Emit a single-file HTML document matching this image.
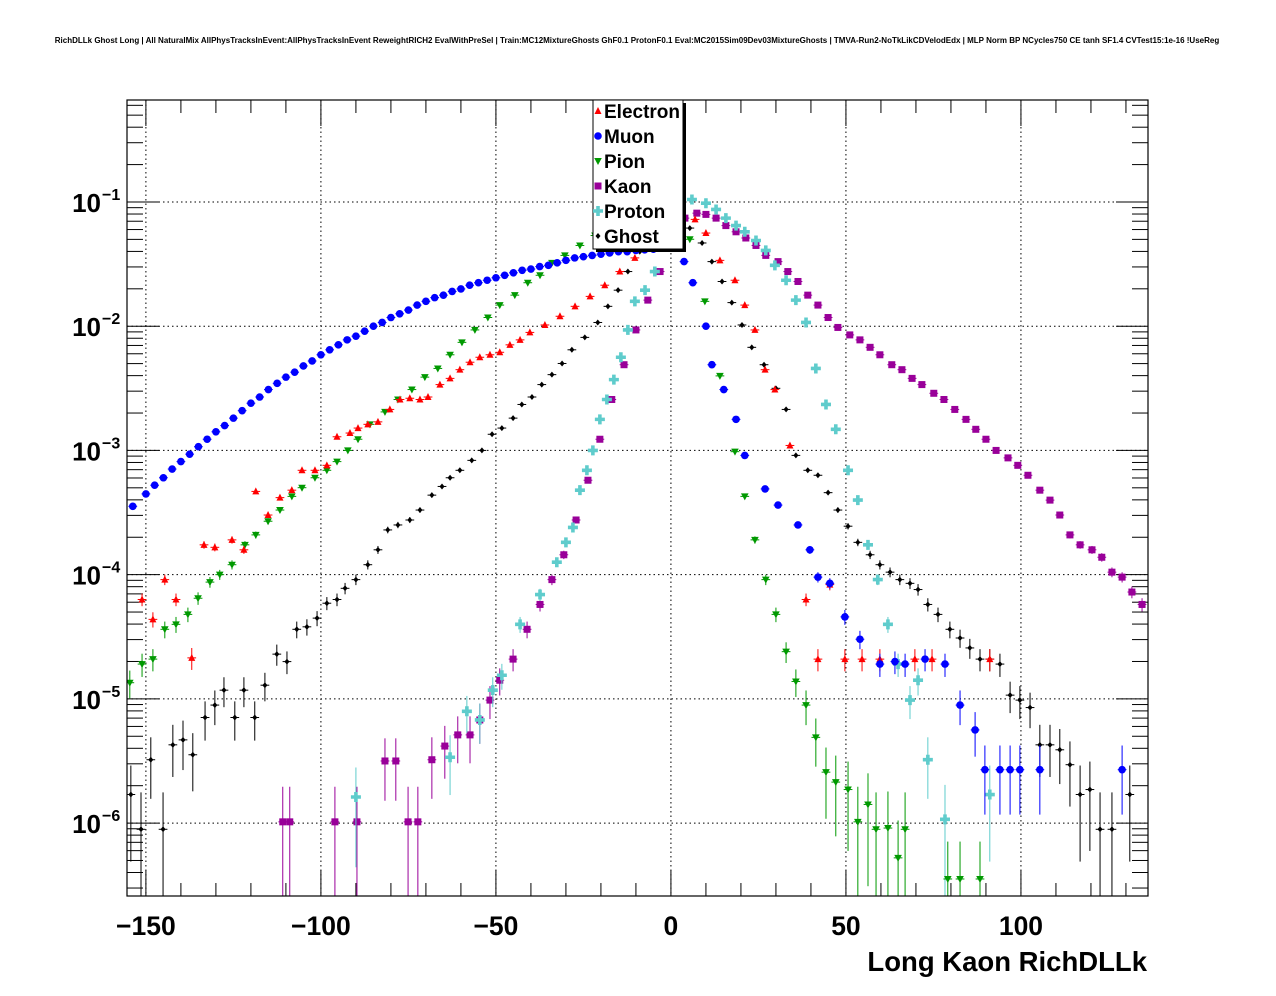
<!DOCTYPE html>
<html><head><meta charset="utf-8"><style>
html,body{margin:0;padding:0;background:#fff;}
svg{display:block;font-family:"Liberation Sans",sans-serif;}
</style></head><body>
<svg id="chart" width="1276" height="996" viewBox="0 0 1276 996" xmlns="http://www.w3.org/2000/svg">
<rect x="0" y="0" width="1276" height="996" fill="#fff"/>
<text x="637" y="43" text-anchor="middle" font-size="8" font-weight="bold">RichDLLk Ghost Long | All NaturalMix AllPhysTracksInEvent:AllPhysTracksInEvent ReweightRICH2 EvalWithPreSel | Train:MC12MixtureGhosts GhF0.1 ProtonF0.1 Eval:MC2015Sim09Dev03MixtureGhosts | TMVA-Run2-NoTkLikCDVelodEdx | MLP Norm BP NCycles750 CE tanh SF1.4 CVTest15:1e-16 !UseReg</text>
<defs><clipPath id="frameclip"><rect x="127" y="100" width="1021" height="796"/></clipPath></defs>
<g id="grid"></g>
<g id="axes"></g>
<g id="series" clip-path="url(#frameclip)"></g>
<rect x="127" y="100" width="1021" height="796" fill="none" stroke="#000" stroke-width="1.2"/>
<g id="legend">
<rect x="596" y="103" width="90" height="149" fill="#000"/>
<rect x="593" y="100" width="90" height="149" fill="#fff" stroke="#000" stroke-width="1"/>
</g>
<text x="1147" y="971" text-anchor="end" font-size="27.5" font-weight="bold">Long Kaon RichDLLk</text>
</svg>
<script>
// ---- data (x in DLLk units, y as log10 of normalised entries) ----
const muonX=[-153.75,-150,-145,-140,-135,-130,-125,-120,-115,-110,-105,-100,-95,-90,-85,-80,-75,-70,-65,-60,-55,-50,-45,-40,-35,-30,-25,-20,-15,-10,-5,3.75,6.25,10,11.7,15.1,18.6,21.1,26.9,30.6,36.3,39.7,42,45.4,49.7,54,59.7,64,66.9,72.6,78.3,82.6,86.9,89.7,94,96.9,99.7,105.4,128.9,-147.5,-142.5,-137.5,-132.5,-127.5,-122.5,-117.5,-112.5,-107.5,-102.5,-97.5,-92.5,-87.5,-82.5,-77.5,-72.5,-67.5,-62.5,-57.5,-52.5,-47.5,-42.5,-37.5,-32.5,-27.5,-22.5,-17.5,-12.5,-7.5];
const muonLogY=[-3.45,-3.35,-3.22,-3.09,-2.97,-2.85,-2.74,-2.62,-2.51,-2.41,-2.32,-2.23,-2.15,-2.08,-2.0,-1.93,-1.87,-1.8,-1.75,-1.7,-1.65,-1.61,-1.57,-1.54,-1.51,-1.47,-1.44,-1.42,-1.4,-1.39,-1.38,-1.48,-1.65,-2.0,-2.31,-2.51,-2.75,-3.04,-3.31,-3.44,-3.6,-3.8,-4.02,-4.07,-4.34,-4.52,-4.72,-4.7,-4.72,-4.68,-4.72,-5.05,-5.25,-5.57,-5.57,-5.57,-5.57,-5.57,-5.57,-3.28,-3.15,-3.03,-2.91,-2.8,-2.68,-2.57,-2.46,-2.37,-2.28,-2.19,-2.11,-2.04,-1.97,-1.9,-1.83,-1.77,-1.72,-1.67,-1.63,-1.59,-1.55,-1.52,-1.49,-1.45,-1.43,-1.41,-1.4,-1.385];
const electronX=[-151.1,-148,-144.6,-141.4,-136.9,-133.4,-130.3,-125.4,-122,-118.6,-115.1,-111.7,-108.3,-105.4,-101.7,-98.3,-95.4,-91.7,-89.4,-86.6,-83.7,-80.3,-77.4,-74.6,-71.7,-69.4,-66,-63.1,-60.3,-57.4,-54.6,-51.7,-48.9,-46,-43.1,-40.3,-36,-31.7,-27.4,-23.1,-18.9,-14.6,-10.3,-6,-2.6,6.9,10,14,18.3,21.1,24,26.9,29.7,34,38.6,42,45.4,49.7,54.6,59.7,69.7,74.6,91.1];
const electronLogY=[-4.2,-4.36,-4.04,-4.2,-4.67,-3.76,-3.78,-3.72,-3.8,-3.33,-3.52,-3.38,-3.32,-3.16,-3.16,-3.12,-2.89,-2.86,-2.82,-2.79,-2.77,-2.67,-2.59,-2.58,-2.59,-2.57,-2.47,-2.42,-2.35,-2.29,-2.25,-2.23,-2.21,-2.15,-2.11,-2.05,-1.99,-1.92,-1.84,-1.76,-1.67,-1.56,-1.45,-1.31,-1.19,-1.14,-1.25,-1.47,-1.63,-1.83,-2.03,-2.35,-2.51,-2.96,-4.2,-4.68,-4.08,-4.68,-4.68,-4.68,-4.68,-4.68,-4.68];
const pionX=[-154.6,-151.1,-148,-144.6,-141.4,-138,-135.1,-131.7,-128.9,-125.4,-121.7,-118.6,-115.1,-111.7,-108.3,-105.4,-101.7,-98.3,-95.4,-92.3,-89.4,-86,-81.7,-78,-74,-70.3,-66.6,-63.1,-59.7,-56,-52.3,-48.9,-44.6,-40.9,-37.4,-34,-30.3,-26,-21.7,-17.4,-13.1,-8.9,-4.6,5.4,9.7,14,18.3,21.1,24,27.1,30,32.9,35.7,38.6,41.4,44.3,47.1,50.6,53.4,56.3,58.6,62,64.9,66.9,79.1,82.6,88.3];
const pionLogY=[-4.87,-4.72,-4.68,-4.44,-4.4,-4.32,-4.19,-4.06,-4.0,-3.92,-3.76,-3.68,-3.57,-3.48,-3.37,-3.3,-3.22,-3.16,-3.09,-3.0,-2.91,-2.79,-2.69,-2.59,-2.51,-2.41,-2.34,-2.23,-2.13,-2.03,-1.93,-1.83,-1.75,-1.65,-1.59,-1.49,-1.43,-1.35,-1.27,-1.19,-1.1,-1.05,-1.02,-1.3,-1.8,-2.4,-3.01,-3.37,-3.72,-4.04,-4.32,-4.62,-4.86,-5.05,-5.31,-5.59,-5.67,-5.73,-5.99,-5.85,-6.05,-6.04,-6.28,-6.05,-6.45,-6.45,-6.45];
const kaonX=[-110.9,-108.9,-96,-89.7,-81.7,-78.6,-75.1,-72.3,-68.3,-64.6,-60.9,-57.4,-54.6,-51.7,-48.9,-45.1,-41.1,-37.4,-34,-30.6,-27.1,-23.7,-20.3,-16.9,-13.4,-10,-6.6,-3.1,1.1,4,7.4,10,12.9,15.7,18.6,21.4,24.3,27.1,30.6,33.4,36.3,39.1,42,44.9,47.7,51.1,54,56.9,59.7,63.1,66,68.9,71.7,75.1,78,81.1,84.3,87.1,90,92.9,96.3,99.1,102,105.4,108.3,111.1,114,116.9,120.3,123.1,126,128.9,131.7,134.6];
const kaonLogY=[-5.99,-5.99,-5.99,-5.99,-5.5,-5.5,-5.99,-5.99,-5.49,-5.38,-5.29,-5.29,-5.17,-5.01,-4.85,-4.68,-4.44,-4.24,-4.04,-3.84,-3.56,-3.24,-2.91,-2.59,-2.31,-2.03,-1.79,-1.56,-1.16,-1.13,-1.09,-1.1,-1.13,-1.19,-1.24,-1.29,-1.35,-1.43,-1.48,-1.56,-1.64,-1.75,-1.83,-1.93,-2.01,-2.07,-2.11,-2.17,-2.23,-2.31,-2.35,-2.42,-2.47,-2.54,-2.59,-2.67,-2.75,-2.83,-2.91,-3.0,-3.06,-3.12,-3.2,-3.32,-3.4,-3.52,-3.68,-3.76,-3.8,-3.86,-3.98,-4.02,-4.14,-4.24];
const protonX=[-90,-63.1,-58.3,-54.6,-50.9,-48.3,-43.1,-37.4,-32.6,-30,-28,-26,-24,-22.3,-20.3,-18.3,-16.3,-14.3,-12.3,-10.3,-7.4,-4.6,-1.7,2,6,10,12.9,15.7,18.6,21.1,24.3,27.1,29.7,32.9,35.7,38.6,41.4,44.3,47.1,50.6,53.4,56.3,59.1,62,64.9,68.3,70.6,73.4,78.3,91.1];
const protonLogY=[-5.79,-5.47,-5.1,-5.17,-4.93,-4.81,-4.4,-4.16,-3.9,-3.74,-3.62,-3.32,-3.16,-3.0,-2.75,-2.59,-2.43,-2.25,-2.03,-1.8,-1.71,-1.56,-1.35,-1.1,-0.98,-1.01,-1.06,-1.13,-1.19,-1.24,-1.31,-1.39,-1.51,-1.63,-1.79,-1.97,-2.34,-2.63,-2.83,-3.16,-3.4,-3.76,-4.04,-4.4,-4.72,-5.01,-4.85,-5.49,-5.97,-5.77];
const ghostX=[-154.3,-151.4,-148.6,-145.1,-142.3,-139.4,-136.6,-133.1,-130.3,-127.7,-124.6,-122,-118.9,-116,-112.6,-109.7,-106.9,-104,-101.1,-98.3,-95.4,-93.1,-90,-86.6,-83.7,-80.9,-78,-74.6,-71.7,-68.3,-65.4,-63.1,-60.3,-56.9,-54,-51.1,-48.3,-45.1,-42.6,-39.7,-36.9,-34,-31.1,-28.3,-24.6,-20.9,-18,-15.1,-12.3,-8.9,-4.6,5.4,8.9,11.7,14.6,17.4,20.3,23.1,26.6,30,32.9,35.7,39.1,42,44.9,47.7,50.6,53.4,56.9,59.7,62.6,65.4,68.3,70.6,73.4,76.3,79.7,82.6,85.4,88.3,91.1,94,96.9,99.7,102.6,105.4,108.3,111.1,114,116.9,119.7,122.6,126,131.1];
const ghostLogY=[-5.77,-6.05,-5.49,-6.05,-5.37,-5.33,-5.45,-5.15,-5.05,-4.93,-5.15,-4.93,-5.15,-4.89,-4.64,-4.7,-4.44,-4.42,-4.35,-4.23,-4.2,-4.11,-4.04,-3.92,-3.8,-3.64,-3.6,-3.56,-3.48,-3.36,-3.29,-3.22,-3.16,-3.08,-3.0,-2.87,-2.82,-2.74,-2.63,-2.57,-2.47,-2.39,-2.3,-2.19,-2.09,-1.97,-1.84,-1.71,-1.56,-1.4,-1.29,-1.21,-1.33,-1.48,-1.64,-1.81,-1.99,-2.17,-2.31,-2.5,-2.67,-3.04,-3.16,-3.2,-3.34,-3.48,-3.61,-3.74,-3.84,-3.92,-3.98,-4.04,-4.07,-4.12,-4.24,-4.32,-4.44,-4.51,-4.59,-4.68,-4.68,-4.72,-4.97,-5.01,-5.07,-5.37,-5.37,-5.41,-5.53,-5.77,-5.73,-6.05,-6.05,-5.77];
const xTickLabels=["\u2212150","\u2212100","\u221250","0","50","100"];
const xTickValues=[-150,-100,-50,0,50,100];
const yDecades=[-6,-5,-4,-3,-2,-1];

// ---- axes ----
const X0=127,X1=1148,Y0=100,Y1=896;
const XMIN=-155.4,XMAX=136.3;
const LMIN=-6.587,LMAX=-0.179;
const sx=u=>X0+(u-XMIN)/(XMAX-XMIN)*(X1-X0);
const sy=l=>Y1-(l-LMIN)/(LMAX-LMIN)*(Y1-Y0);
const NS="http://www.w3.org/2000/svg";
function mk(tag,attrs,parent){const e=document.createElementNS(NS,tag);for(const k in attrs)e.setAttribute(k,attrs[k]);parent.appendChild(e);return e;}
const grid=document.getElementById('grid'),axes=document.getElementById('axes'),ser=document.getElementById('series'),leg=document.getElementById('legend');

xTickValues.forEach((v,i)=>{
  const x=sx(v);
  const gl=mk('line',{x1:x,y1:Y0,x2:x,y2:Y1,stroke:'#000','stroke-width':1,'stroke-dasharray':'1.5,3'},grid);
  
  
  const t=mk('text',{x:x,y:935,'text-anchor':'middle','font-size':26.5,'font-weight':'bold'},axes);
  t.textContent=xTickLabels[i];
  
  
});
for(let v=-150;v<=130;v+=10){
  const x=sx(v);const major=(v%50===0);const L=major?26:13;
  mk('line',{x1:x,y1:Y1,x2:x,y2:Y1-L,stroke:'#000','stroke-width':1},axes);
  mk('line',{x1:x,y1:Y0,x2:x,y2:Y0+L,stroke:'#000','stroke-width':1},axes);
}
for(let d=-7;d<=-1;d++){
  for(let m=1;m<=9;m++){
    const l=d+Math.log10(m);
    if(l<LMIN||l>LMAX)continue;
    const y=sy(l);const L=(m===1)?32:16;
    mk('line',{x1:X0,y1:y,x2:X0+L,y2:y,stroke:'#000','stroke-width':1},axes);
    mk('line',{x1:X1,y1:y,x2:X1-L,y2:y,stroke:'#000','stroke-width':1},axes);
  }
}
yDecades.forEach(d=>{
  const y=sy(d);
  const gl=mk('line',{x1:X0,y1:y,x2:X1,y2:y,stroke:'#000','stroke-width':1,'stroke-dasharray':'1.5,3'},grid);
  
  
  const t=mk('text',{x:101,y:y+10,'text-anchor':'end','font-size':26,'font-weight':'bold'},axes);
  t.textContent='10';
  
  
  const s=mk('text',{x:102,y:y-2,'text-anchor':'start','font-size':16,'font-weight':'bold'},axes);
  s.textContent='\u2212'+(-d);
  
  
});

// ---- markers ----
function marker(kind,x,y,color,g){
  if(kind==='up')return mk('polygon',{points:`${x},${y-4} ${x-3.5},${y+3} ${x+3.5},${y+3}`,fill:color},g);
  if(kind==='down')return mk('polygon',{points:`${x},${y+4} ${x-3.8},${y-3} ${x+3.8},${y-3}`,fill:color},g);
  if(kind==='circle')return mk('circle',{cx:x,cy:y,r:3.8,fill:color},g);
  if(kind==='square')return mk('rect',{x:x-3.5,y:y-3.5,width:7,height:7,fill:color},g);
  if(kind==='cross')return mk('path',{d:`M${x-1.8},${y-5}h3.6v3.2h3.2v3.6h-3.2v3.2h-3.6v-3.2h-3.2v-3.6h3.2z`,fill:color},g);
  return mk('polygon',{points:`${x},${y-3} ${x-2.5},${y} ${x},${y+3} ${x+2.5},${y}`,fill:color},g);
}
const UNIT=8.6e-7;
function drawSeries(name,xs,ls,kind,color){
  const g=mk('g',{},ser);
  
  
  xs.forEach((u,i)=>{
    const v=Math.pow(10,ls[i]);const rel=1/Math.sqrt(Math.max(v/UNIT,1));
    const x=sx(u),y=sy(ls[i]);
    const hi=sy(Math.log10(v*(1+rel)));
    const lo=(1-rel)>0.02?sy(Math.log10(v*(1-rel))):Y1+5;
    mk('line',{x1:x,y1:hi,x2:x,y2:lo,stroke:color,'stroke-width':1},g);
    mk('line',{x1:sx(u-1.25),y1:y,x2:sx(u+1.25),y2:y,stroke:color,'stroke-width':1},g);
    const m=marker(kind,x,y,color,g);
    
    
  });
}
drawSeries('ghost',ghostX,ghostLogY,'diamond','#000');
drawSeries('kaon',kaonX,kaonLogY,'square','#990099');
drawSeries('proton',protonX,protonLogY,'cross','#5fcccc');
drawSeries('pion',pionX,pionLogY,'down','#009900');
drawSeries('electron',electronX,electronLogY,'up','#ff0000');
drawSeries('muon',muonX,muonLogY,'circle','#0000ff');

// ---- legend ----
const legNames=["Electron","Muon","Pion","Kaon","Proton","Ghost"];
const legKinds=["up","circle","down","square","cross","diamond"];
const legColors=["#ff0000","#0000ff","#009900","#990099","#5fcccc","#000"];
legNames.forEach((n,i)=>{
  const y=111+i*25;
  const g=mk('g',{},leg);
  
  
  marker(legKinds[i],598,y,legColors[i],g);
  const t=mk('text',{x:604,y:y+7,'font-size':19,'font-weight':'bold'},g);
  t.textContent=n;
});
</script>
</body></html>
